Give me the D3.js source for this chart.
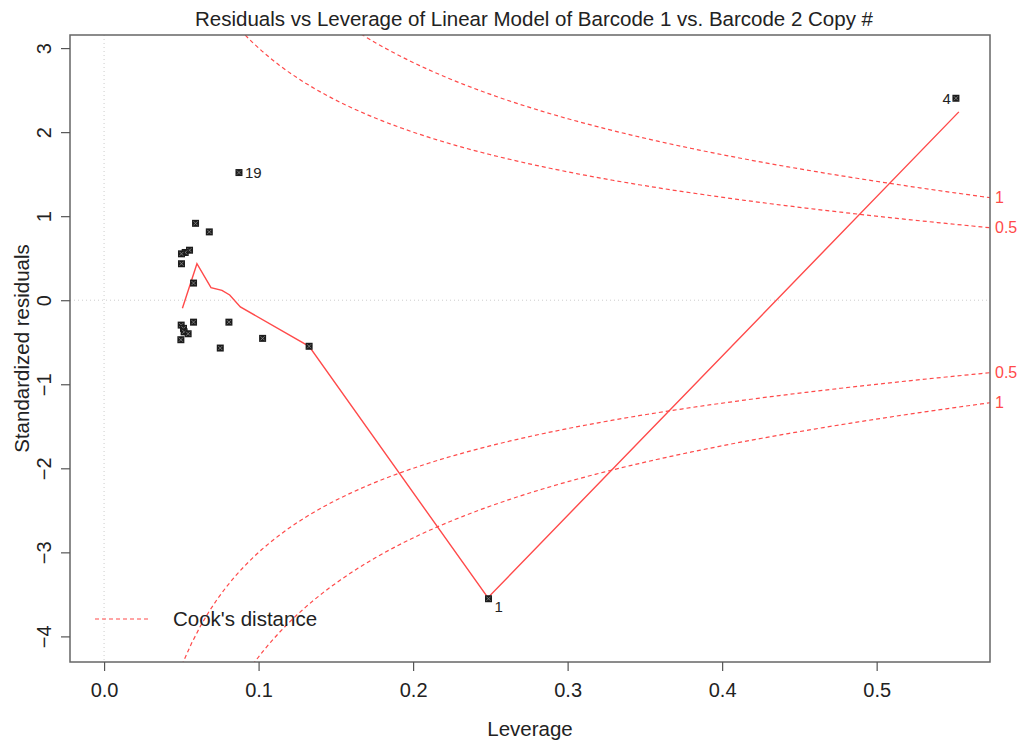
<!DOCTYPE html>
<html>
<head>
<meta charset="utf-8">
<script src="https://cdn.jsdelivr.net/npm/d3@7"></script>
<style>
  body { margin: 0; background: #fff; }
  svg { font-family: "Liberation Sans", Arial, sans-serif; }
  .tick line { stroke: #555; stroke-width: 1.2; }
  .tick text { fill: #222; font-size: 20px; }
</style>
</head>
<body>
<svg id="chart"></svg>
<script>
var obsId    = [1, 2, 3, 4, 5, 6, 7, 8, 9, 10, 11, 12, 13, 14, 15, 16, 17, 18, 19, 20];
var leverage = [0.2488, 0.0592, 0.0681, 0.5513, 0.0553, 0.0525, 0.0501, 0.0501, 0.0579, 0.0499,
                0.0514, 0.0518, 0.0544, 0.0497, 0.0579, 0.0808, 0.0752, 0.1026, 0.0873, 0.1327];
var stdResid = [-3.552, 0.915, 0.813, 2.403, 0.595, 0.568, 0.552, 0.434, 0.204, -0.296,
                -0.335, -0.376, -0.399, -0.470, -0.261, -0.261, -0.569, -0.454, 1.519, -0.548];

// lowess smoother vertices
var smoothLev = [0.0507, 0.0601, 0.0692, 0.0763, 0.0813, 0.0882, 0.1327, 0.2484, 0.5532];
var smoothRes = [-0.095, 0.434, 0.150, 0.118, 0.062, -0.080, -0.548, -3.540, 2.241];

var labelled   = [1, 4, 19];
var cookLevels = [0.5, 1];
var nCoef = 2;
var xTicks = [0, 0.1, 0.2, 0.3, 0.4, 0.5];
var yTicks = [-4, -3, -2, -1, 0, 1, 2, 3];

var W = 1026, H = 746;
var box = {left: 70, right: 990, top: 35, bottom: 662};
var red = "#ff4a4a";

var svg = d3.select("#chart").attr("width", W).attr("height", H);

// R style limits: 4% extension (plus 8% for y when points are labelled)
function ext(r, f) { var d = (r[1] - r[0]) * f; return [r[0] - d, r[1] + d]; }
var xDom = ext([0, d3.max(leverage)], 0.04);
var yDom = ext(ext(d3.extent(stdResid), 0.08), 0.04);

var x = d3.scaleLinear().domain(xDom).range([box.left, box.right]);
var y = d3.scaleLinear().domain(yDom).range([box.bottom, box.top]);

svg.append("clipPath").attr("id", "clip")
  .append("rect")
  .attr("x", box.left).attr("y", box.top)
  .attr("width", box.right - box.left).attr("height", box.bottom - box.top);

var plot = svg.append("g").attr("clip-path", "url(#clip)");

// reference lines at 0
plot.append("line")
  .attr("x1", box.left).attr("x2", box.right)
  .attr("y1", y(0)).attr("y2", y(0))
  .style("stroke", "#ccc").style("stroke-dasharray", "1,3");
plot.append("line")
  .attr("x1", x(0)).attr("x2", x(0))
  .attr("y1", box.top).attr("y2", box.bottom)
  .style("stroke", "#ccc").style("stroke-dasharray", "1,3");

// Cook's distance contours
var hh = d3.range(101).map(function(i) {
  var lo = Math.min(d3.min(leverage), d3.max(leverage) / 100);
  return lo + (xDom[1] - lo) * i / 100;
});
var cookLine = d3.line().x(function(d) { return x(d.h); }).y(function(d) { return y(d.r); });
cookLevels.forEach(function(c) {
  [1, -1].forEach(function(s) {
    var pts = hh.map(function(h) { return {h: h, r: s * Math.sqrt(c * nCoef * (1 - h) / h)}; });
    plot.append("path")
      .attr("d", cookLine(pts))
      .style("fill", "none").style("stroke", red).style("stroke-width", 1.2)
      .style("stroke-dasharray", "4,3");
    svg.append("text")
      .attr("x", box.right + 5)
      .attr("y", y(s * Math.sqrt(c * nCoef * (1 - xDom[1]) / xDom[1])))
      .attr("dy", "0.35em")
      .style("fill", red).style("font-size", "16px")
      .text(c);
  });
});

// smoother
var smooth = smoothLev.map(function(v, i) { return {h: v, r: smoothRes[i]}; });
plot.append("path")
  .attr("d", cookLine(smooth))
  .style("fill", "none").style("stroke", red).style("stroke-width", 1.4);

// points
var pts = obsId.map(function(id, i) { return {id: id, h: leverage[i], r: stdResid[i]}; });
var g = plot.selectAll(".pt").data(pts).enter().append("g")
  .attr("transform", function(d) { return `translate(${x(d.h)},${y(d.r)})`; });
g.append("rect")
  .attr("x", -3.5).attr("y", -3.5).attr("width", 7).attr("height", 7)
  .style("fill", "#1c1c1c");
g.append("path")
  .attr("d", "M-2,-2L2,2M2,-2L-2,2")
  .style("stroke", "#8a8a8a").style("stroke-width", 0.8);

// point labels
var midX = d3.mean(d3.extent(leverage));
pts.filter(function(d) { return labelled.indexOf(d.id) >= 0; }).forEach(function(d) {
  var right = d.h < midX;
  svg.append("text")
    .attr("x", x(d.h) + (right ? 6 : -5))
    .attr("y", y(d.r) + (d.id === 1 ? 8 : 0))
    .attr("dy", "0.35em")
    .attr("text-anchor", right ? "start" : "end")
    .style("font-size", "15px").style("fill", "#222")
    .text(d.id);
});

// box
svg.append("rect")
  .attr("x", box.left).attr("y", box.top)
  .attr("width", box.right - box.left).attr("height", box.bottom - box.top)
  .style("fill", "none").style("stroke", "#666").style("stroke-width", 1.5);

// axes
var xAxis = svg.append("g")
  .attr("transform", `translate(0, ${box.bottom})`)
  .call(d3.axisBottom(x).tickValues(xTicks).tickFormat(d3.format(".1f")).tickSize(9).tickPadding(12));
xAxis.select(".domain").remove();

var yAxis = svg.append("g")
  .attr("transform", `translate(${box.left}, 0)`)
  .call(d3.axisLeft(y).tickValues(yTicks).tickSize(9));
yAxis.select(".domain").remove();
yAxis.selectAll(".tick text")
  .attr("x", null).attr("dy", null)
  .attr("text-anchor", "middle")
  .attr("transform", "translate(-26,0) rotate(-90)")
  .attr("dy", "0.35em")
  .text(function(d) { return d < 0 ? "\u2212" + Math.abs(d) : d; });

// titles
svg.append("text")
  .attr("x", 534).attr("y", 26)
  .attr("text-anchor", "middle")
  .style("font-size", "20.5px").style("fill", "#222")
  .text("Residuals vs Leverage of Linear Model of Barcode 1 vs. Barcode 2 Copy #");

svg.append("text")
  .attr("x", (box.left + box.right) / 2).attr("y", 736)
  .attr("text-anchor", "middle")
  .style("font-size", "20.5px").style("fill", "#222")
  .text("Leverage");

svg.append("text")
  .attr("transform", `translate(22, ${(box.top + box.bottom) / 2}) rotate(-90)`)
  .attr("text-anchor", "middle")
  .attr("dy", "0.35em")
  .style("font-size", "20.5px").style("fill", "#222")
  .text("Standardized residuals");

// legend
svg.append("line")
  .attr("x1", 95).attr("x2", 148).attr("y1", 619).attr("y2", 619)
  .style("stroke", red).style("stroke-width", 1.2).style("stroke-dasharray", "4,3");
svg.append("text")
  .attr("x", 173).attr("y", 619).attr("dy", "0.35em")
  .style("font-size", "20.5px").style("fill", "#222")
  .text("Cook's distance");
</script>
</body>
</html>
